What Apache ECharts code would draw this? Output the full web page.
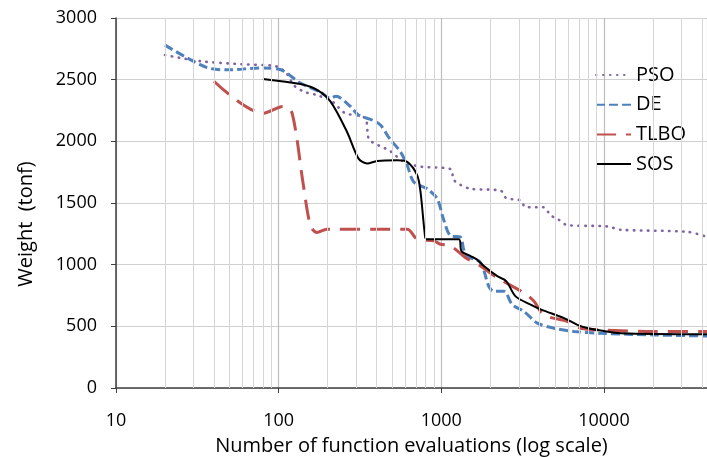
<!DOCTYPE html>
<html>
<head>
<meta charset="utf-8">
<script src="https://cdn.jsdelivr.net/npm/echarts@6/dist/echarts.min.js"></script>
<style>
  html, body { margin: 0; padding: 0; background: #fff; }
  #chart { width: 707px; height: 457px; }
</style>
</head>
<body>
<div id="chart"></div>
<script>
// data (x = function evaluations, y = weight in tonf)
const psoX = [20, 33, 60, 90, 100, 112, 125, 145, 172, 215, 255, 340, 352, 362, 486, 585, 745, 1140, 1190, 1300, 1514, 2317, 2507, 3075, 3300, 4255, 4700, 5200, 5960, 10500, 12670, 32670, 43000];
const psoY = [2700, 2650, 2625, 2615, 2600, 2550, 2450, 2400, 2375, 2320, 2230, 2190, 2080, 2010, 1920, 1836, 1795, 1775, 1690, 1650, 1615, 1600, 1540, 1520, 1465, 1465, 1400, 1370, 1321, 1310, 1283, 1266, 1225];

const deX = [20, 36, 50, 77, 102, 136, 180, 208, 225, 276, 309, 375, 423, 480, 561, 617, 677, 818, 944, 1031, 1140, 1313, 1371, 1440, 1742, 1958, 2104, 2427, 2731, 3222, 3893, 4931, 6550, 9550, 20400, 43000];
const deY = [2780, 2600, 2580, 2595, 2582, 2473, 2400, 2350, 2365, 2283, 2214, 2173, 2132, 2024, 1915, 1806, 1670, 1615, 1534, 1370, 1234, 1223, 1125, 1070, 1016, 825, 784, 784, 676, 621, 526, 485, 458, 444, 430, 422];

const tlboX = [40, 80, 107, 121, 142, 157, 172, 198, 617, 711, 899, 988, 1140, 1409, 1742, 2208, 3222, 3715, 4255, 5960, 7200, 9550, 20400, 43000];
const tlboY = [2487, 2228, 2283, 2228, 1642, 1315, 1261, 1288, 1288, 1207, 1193, 1166, 1152, 1057, 989, 894, 771, 703, 594, 539, 485, 471, 458, 458];

const sosX = [80, 136, 172, 208, 263, 310, 350, 403, 535, 617, 711, 745, 790, 810, 1282, 1330, 1514, 1650, 1827, 2208, 2507, 2862, 3540, 4115, 5680, 6870, 8000, 9550, 12670, 43000];
const sosY = [2506, 2465, 2418, 2324, 2078, 1860, 1820, 1841, 1846, 1833, 1724, 1590, 1260, 1207, 1207, 1110, 1070, 1043, 989, 907, 866, 743, 676, 635, 567, 512, 485, 466, 444, 436];

const seriesNames = ['PSO', 'DE', 'TLBO', 'SOS'];

// minor vertical grid lines of the log axis
const minorGrid = [20, 30, 40, 50, 60, 70, 80, 90, 200, 300, 400, 500, 600, 700, 800, 900,
  2000, 3000, 4000, 5000, 6000, 7000, 8000, 9000, 20000, 30000, 40000];

function pairs (xs, ys) {
  return xs.map((x, i) => [x, ys[i]])
}

const font = '"Open Sans", "Noto Sans", sans-serif'

const option = {
  animation: false,
  textStyle: { fontFamily: font },
  grid: { left: 116, right: 0, top: 18, bottom: 69, containLabel: false, outerBoundsMode: 'none' },
  legend: {
    data: seriesNames,
    orient: 'vertical',
    left: 590,
    top: 60,
    itemWidth: 35,
    itemHeight: 14,
    itemGap: 9.7,
    itemStyle: { opacity: 0 },
    textStyle: { fontSize: 20, color: '#000', fontFamily: font }
  },
  xAxis: {
    type: 'log',
    logBase: 10,
    min: 10,
    max: 43000,
    name: 'Number of function evaluations (log scale)',
    nameLocation: 'middle',
    nameGap: 48,
    nameTextStyle: { fontSize: 20, color: '#000', fontFamily: font },
    axisLine: { lineStyle: { color: '#404040', width: 1.5 } },
    axisTick: { show: true, length: 5, lineStyle: { color: '#404040' } },
    axisLabel: {
      fontSize: 18, color: '#000', margin: 24, fontFamily: font,
      showMaxLabel: false,
      formatter: v => String(v)
    },
    splitLine: { show: true, lineStyle: { color: '#bdbdbd', width: 1.2 } }
  },
  yAxis: {
    type: 'value',
    min: 0,
    max: 3000,
    interval: 500,
    name: 'Weight  (tonf)',
    nameLocation: 'middle',
    nameGap: 80,
    nameTextStyle: { fontSize: 20, color: '#000', fontFamily: font, padding: [0, 42, 0, 0] },
    axisLine: { show: true, lineStyle: { color: '#404040', width: 1.5 } },
    axisTick: { show: true, length: 5, lineStyle: { color: '#404040' } },
    axisLabel: { fontSize: 18, color: '#000', margin: 19, fontFamily: font, formatter: v => String(v) },
    splitLine: { show: true, lineStyle: { color: '#d0d0d0', width: 1 } }
  },
  series: [
    {
      name: 'grid',
      type: 'line',
      data: [],
      z: 1,
      silent: true,
      markLine: {
        silent: true,
        symbol: 'none',
        animation: false,
        label: { show: false },
        lineStyle: { color: '#d6d6d6', width: 1, type: 'solid' },
        data: minorGrid.map(v => ({ xAxis: v }))
      }
    },
    {
      name: 'PSO',
      type: 'line',
      data: pairs(psoX, psoY),
      showSymbol: false,
      symbol: 'none',
      smooth: 0.3,
      z: 3,
      color: '#8064A2',
      lineStyle: { color: '#8064A2', width: 2.6, type: [0.5, 6.5], cap: 'round' }
    },
    {
      name: 'DE',
      type: 'line',
      data: pairs(deX, deY),
      showSymbol: false,
      symbol: 'none',
      smooth: 0.3,
      z: 3,
      color: '#4F81BD',
      lineStyle: { color: '#4F81BD', width: 3, type: [9, 4] }
    },
    {
      name: 'TLBO',
      type: 'line',
      data: pairs(tlboX, tlboY),
      showSymbol: false,
      symbol: 'none',
      smooth: 0.3,
      z: 3,
      color: '#C0504D',
      lineStyle: { color: '#C0504D', width: 3, type: [20, 10] }
    },
    {
      name: 'SOS',
      type: 'line',
      data: pairs(sosX, sosY),
      showSymbol: false,
      symbol: 'none',
      smooth: 0.3,
      z: 4,
      color: '#000',
      lineStyle: { color: '#000', width: 2 }
    }
  ]
}

const myChart = echarts.init(document.getElementById('chart'))
myChart.setOption(option)
</script>
</body>
</html>
